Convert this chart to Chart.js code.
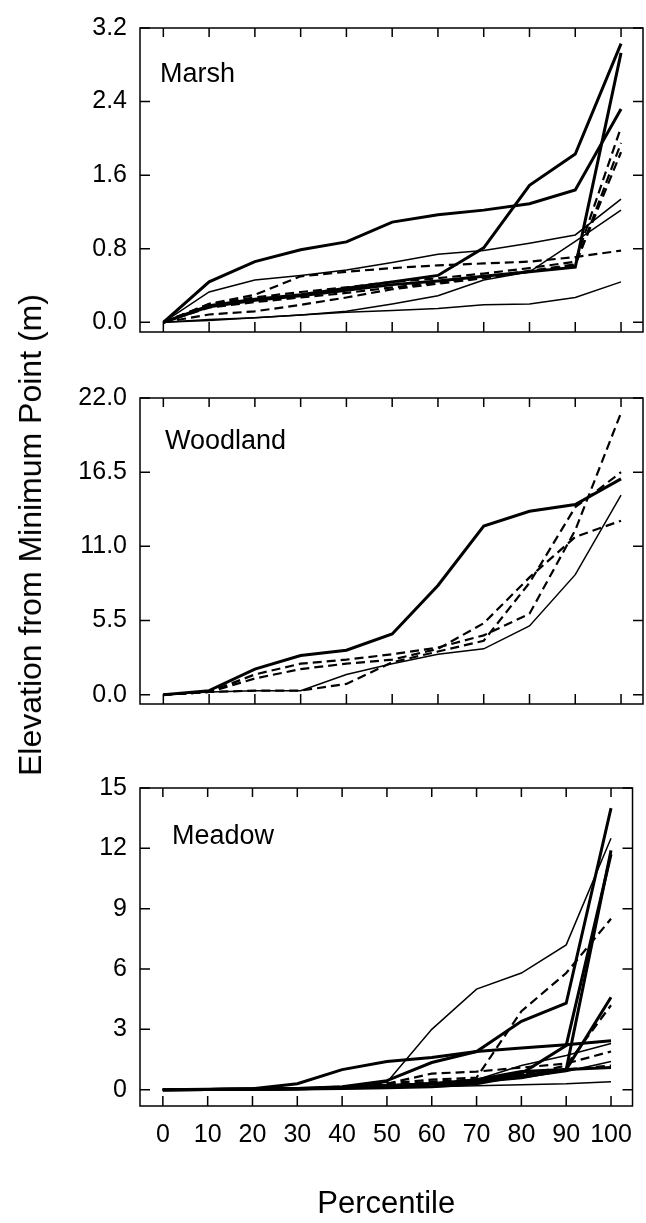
<!DOCTYPE html>
<html>
<head>
<meta charset="utf-8">
<script src="https://cdn.jsdelivr.net/npm/chart.js@4.4.1/dist/chart.umd.min.js"></script>
<style>
  html, body { margin: 0; padding: 0; background: #fff; }
  #page { position: relative; width: 646px; height: 1223px; overflow: hidden; }
  .panel { position: absolute; left: 0; width: 646px; }
  #yTitle {
    position: absolute; left: 30px; top: 535px;
    transform: translate(-50%, -50%) rotate(-90deg);
    font: 32px "Liberation Sans", Arial, sans-serif; line-height: 1;
    white-space: nowrap; color: #000;
  }
</style>
</head>
<body>
<div id="page">
  <div class="panel" style="top:0;height:360px"><canvas id="marshChart"></canvas></div>
  <div class="panel" style="top:370px;height:362px"><canvas id="woodChart"></canvas></div>
  <div class="panel" style="top:760px;height:463px"><canvas id="meadowChart"></canvas></div>
  <div id="yTitle">Elevation from Minimum Point (m)</div>
</div>
<script>
const percentiles = [0, 10, 20, 30, 40, 50, 60, 70, 80, 90, 100];
const xTicks = [0, 10, 20, 30, 40, 50, 60, 70, 80, 90, 100];

// Marsh
const marshTicks = [0, 0.8, 1.6, 2.4, 3.2];
const marshSeries = [
  [0, .44, .66, .79, .875, 1.09, 1.17, 1.22, 1.29, 1.44, 2.32],
  [0, .18, .25, .3, .37, .44, .51, .81, 1.49, 1.83, 3.03],
  [0, .17, .24, .29, .35, .41, .45, .5, .55, .6, 2.93],
  [0, .33, .46, .51, .57, .65, .74, .78, .86, .95, 1.34],
  [0, .02, .05, .08, .12, .2, .29, .46, .55, .88, 1.22],
  [0, .03, .05, .08, .11, .13, .15, .19, .2, .27, .44],
  [0, .2, .3, .5, .55, .59, .62, .64, .66, .71, .78],
  [0, .2, .27, .33, .38, .44, .48, .53, .59, .66, 2.12],
  [0, .085, .12, .19, .27, .36, .42, .48, .55, .62, 1.95],
  [0, .16, .22, .27, .32, .38, .43, .49, .56, .63, 1.85]
];
const marshKinds = ['thick', 'thick', 'thick', 'thin', 'thin', 'thin', 'dash', 'dash', 'dash', 'dash'];

// Woodland
const woodTicks = [0, 5.5, 11, 16.5, 22];
const woodSeries = [
  [0, .3, 1.9, 2.9, 3.3, 4.5, 8.1, 12.5, 13.6, 14.1, 16.0],
  [0, .2, .3, .3, 1.5, 2.3, 3.0, 3.4, 5.1, 8.9, 14.8],
  [0, .2, 1.5, 2.3, 2.6, 3.0, 3.5, 4.4, 6.0, 12.2, 20.9],
  [0, .2, 1.2, 1.9, 2.3, 2.6, 3.4, 5.3, 8.7, 11.7, 12.9],
  [0, .2, .3, .3, .8, 2.4, 3.2, 4.0, 8.3, 13.9, 16.5]
];
const woodKinds = ['thick', 'thin', 'dash', 'dash', 'dash'];

// Meadow
const meadowTicks = [0, 3, 6, 9, 12, 15];
const meadowSeries = [
  [0, .02, .05, .3, 1.0, 1.4, 1.6, 1.9, 2.07, 2.24, 2.43],
  [0, 0, .02, .05, .1, .37, 3.0, 5.0, 5.8, 7.2, 12.5],
  [0, .01, .03, .06, .15, .45, 1.35, 1.9, 3.4, 4.3, 14.0],
  [0, .01, .03, .06, .1, .2, .3, .5, .9, 1.0, 11.9],
  [0, .01, .02, .05, .1, .2, .3, .4, .8, 2.2, 11.7],
  [0, .01, .03, .06, .12, .3, .5, .6, 3.9, 5.8, 8.5],
  [0, .01, .02, .04, .1, .2, .3, .4, .6, 1.0, 4.6],
  [0, .01, .02, .04, .1, .2, .4, .5, .7, 1.2, 4.2],
  [0, .01, .02, .04, .08, .2, .3, .5, 1.2, 1.7, 2.3],
  [0, .01, .02, .05, .15, .3, .8, .9, 1.1, 1.3, 1.9],
  [0, .01, .02, .04, .08, .15, .25, .4, .6, .9, 1.4],
  [0, .01, .02, .04, .08, .15, .3, .5, .8, 1.0, 1.2],
  [0, .01, .02, .03, .05, .1, .15, .2, .25, .3, .4],
  [0, .01, .02, .04, .06, .1, .15, .3, .7, 1.0, 1.1]
];
const meadowKinds = ['thick', 'thin', 'thick', 'thick', 'thick', 'dash', 'thick', 'dash', 'thin', 'dash', 'thin', 'dash', 'thin', 'thick'];

const FAMILY = '"Liberation Sans", Arial, sans-serif';
const lineWidths = { thick: 3, thin: 1.5, dash: 2.2 };

// frame with inward ticks on all four sides, plus the panel name
const framePlugin = {
  id: 'frame',
  afterDraw(chart, args, opts) {
    const { ctx, chartArea: a, scales: { x, y } } = chart;
    ctx.save();
    ctx.strokeStyle = '#000';
    ctx.lineWidth = 1.5;
    ctx.strokeRect(a.left, a.top, a.right - a.left, a.bottom - a.top);
    ctx.beginPath();
    xTicks.forEach(v => {
      const px = x.getPixelForValue(v);
      ctx.moveTo(px, a.top); ctx.lineTo(px, a.top + 9);
      ctx.moveTo(px, a.bottom); ctx.lineTo(px, a.bottom - 10);
    });
    y.ticks.forEach(t => {
      const py = y.getPixelForValue(t.value);
      ctx.moveTo(a.left, py); ctx.lineTo(a.left + 10, py);
      ctx.moveTo(a.right, py); ctx.lineTo(a.right - 10, py);
    });
    ctx.stroke();
    ctx.fillStyle = '#000';
    ctx.font = '27px ' + FAMILY;
    ctx.textBaseline = 'alphabetic';
    ctx.fillText(opts.label, a.left + opts.dx, a.top + opts.dy);
    ctx.restore();
  }
};

function makePanel(id, name, series, kinds, yMin, yMax, yTicks, decimals, pad, labelPos, showX) {
  const datasets = series.map((vals, i) => ({
    data: vals.map((v, j) => ({ x: percentiles[j], y: v })),
    borderColor: '#000',
    borderWidth: lineWidths[kinds[i]],
    borderDash: kinds[i] === 'dash' ? [9, 5] : [],
    pointRadius: 0,
    tension: 0,
    fill: false
  }));

  return new Chart(document.getElementById(id), {
    type: 'line',
    data: { datasets: datasets },
    options: {
      responsive: true,
      maintainAspectRatio: false,
      animation: false,
      layout: { padding: { top: pad[0], bottom: pad[1], left: 0, right: 3 } },
      plugins: {
        legend: { display: false },
        tooltip: { enabled: false },
        frame: { label: name, dx: labelPos[0], dy: labelPos[1] }
      },
      scales: {
        x: {
          type: 'linear',
          min: -5.1,
          max: 104.8,
          display: showX,
          afterBuildTicks: s => { s.ticks = xTicks.map(v => ({ value: v })); },
          afterFit: s => { if (showX) s.height = 117; },
          grid: { display: false, drawTicks: false },
          border: { display: false },
          ticks: { padding: 14, color: '#000', font: { family: FAMILY, size: 25 }, maxRotation: 0, autoSkip: false },
          title: { display: showX, text: 'Percentile', color: '#000', font: { family: FAMILY, size: 31 }, padding: 0 }
        },
        y: {
          min: yMin,
          max: yMax,
          afterBuildTicks: s => { s.ticks = yTicks.map(v => ({ value: v })); },
          afterFit: s => { s.width = 140; },
          grid: { display: false, drawTicks: false },
          border: { display: false },
          ticks: {
            padding: 13,
            color: '#000',
            font: { family: FAMILY, size: 25 },
            callback: v => v.toFixed(decimals)
          }
        }
      }
    },
    plugins: [framePlugin]
  });
}

makePanel('marshChart', 'Marsh', marshSeries, marshKinds, -0.105, 3.2, marshTicks, 1, [21, 15], [20, 54], false);
makePanel('woodChart', 'Woodland', woodSeries, woodKinds, -0.69, 22, woodTicks, 1, [26, 10], [25, 51], false);
makePanel('meadowChart', 'Meadow', meadowSeries, meadowKinds, -0.81, 15, meadowTicks, 0, [21, 0], [32, 56], true);
</script>
</body>
</html>
